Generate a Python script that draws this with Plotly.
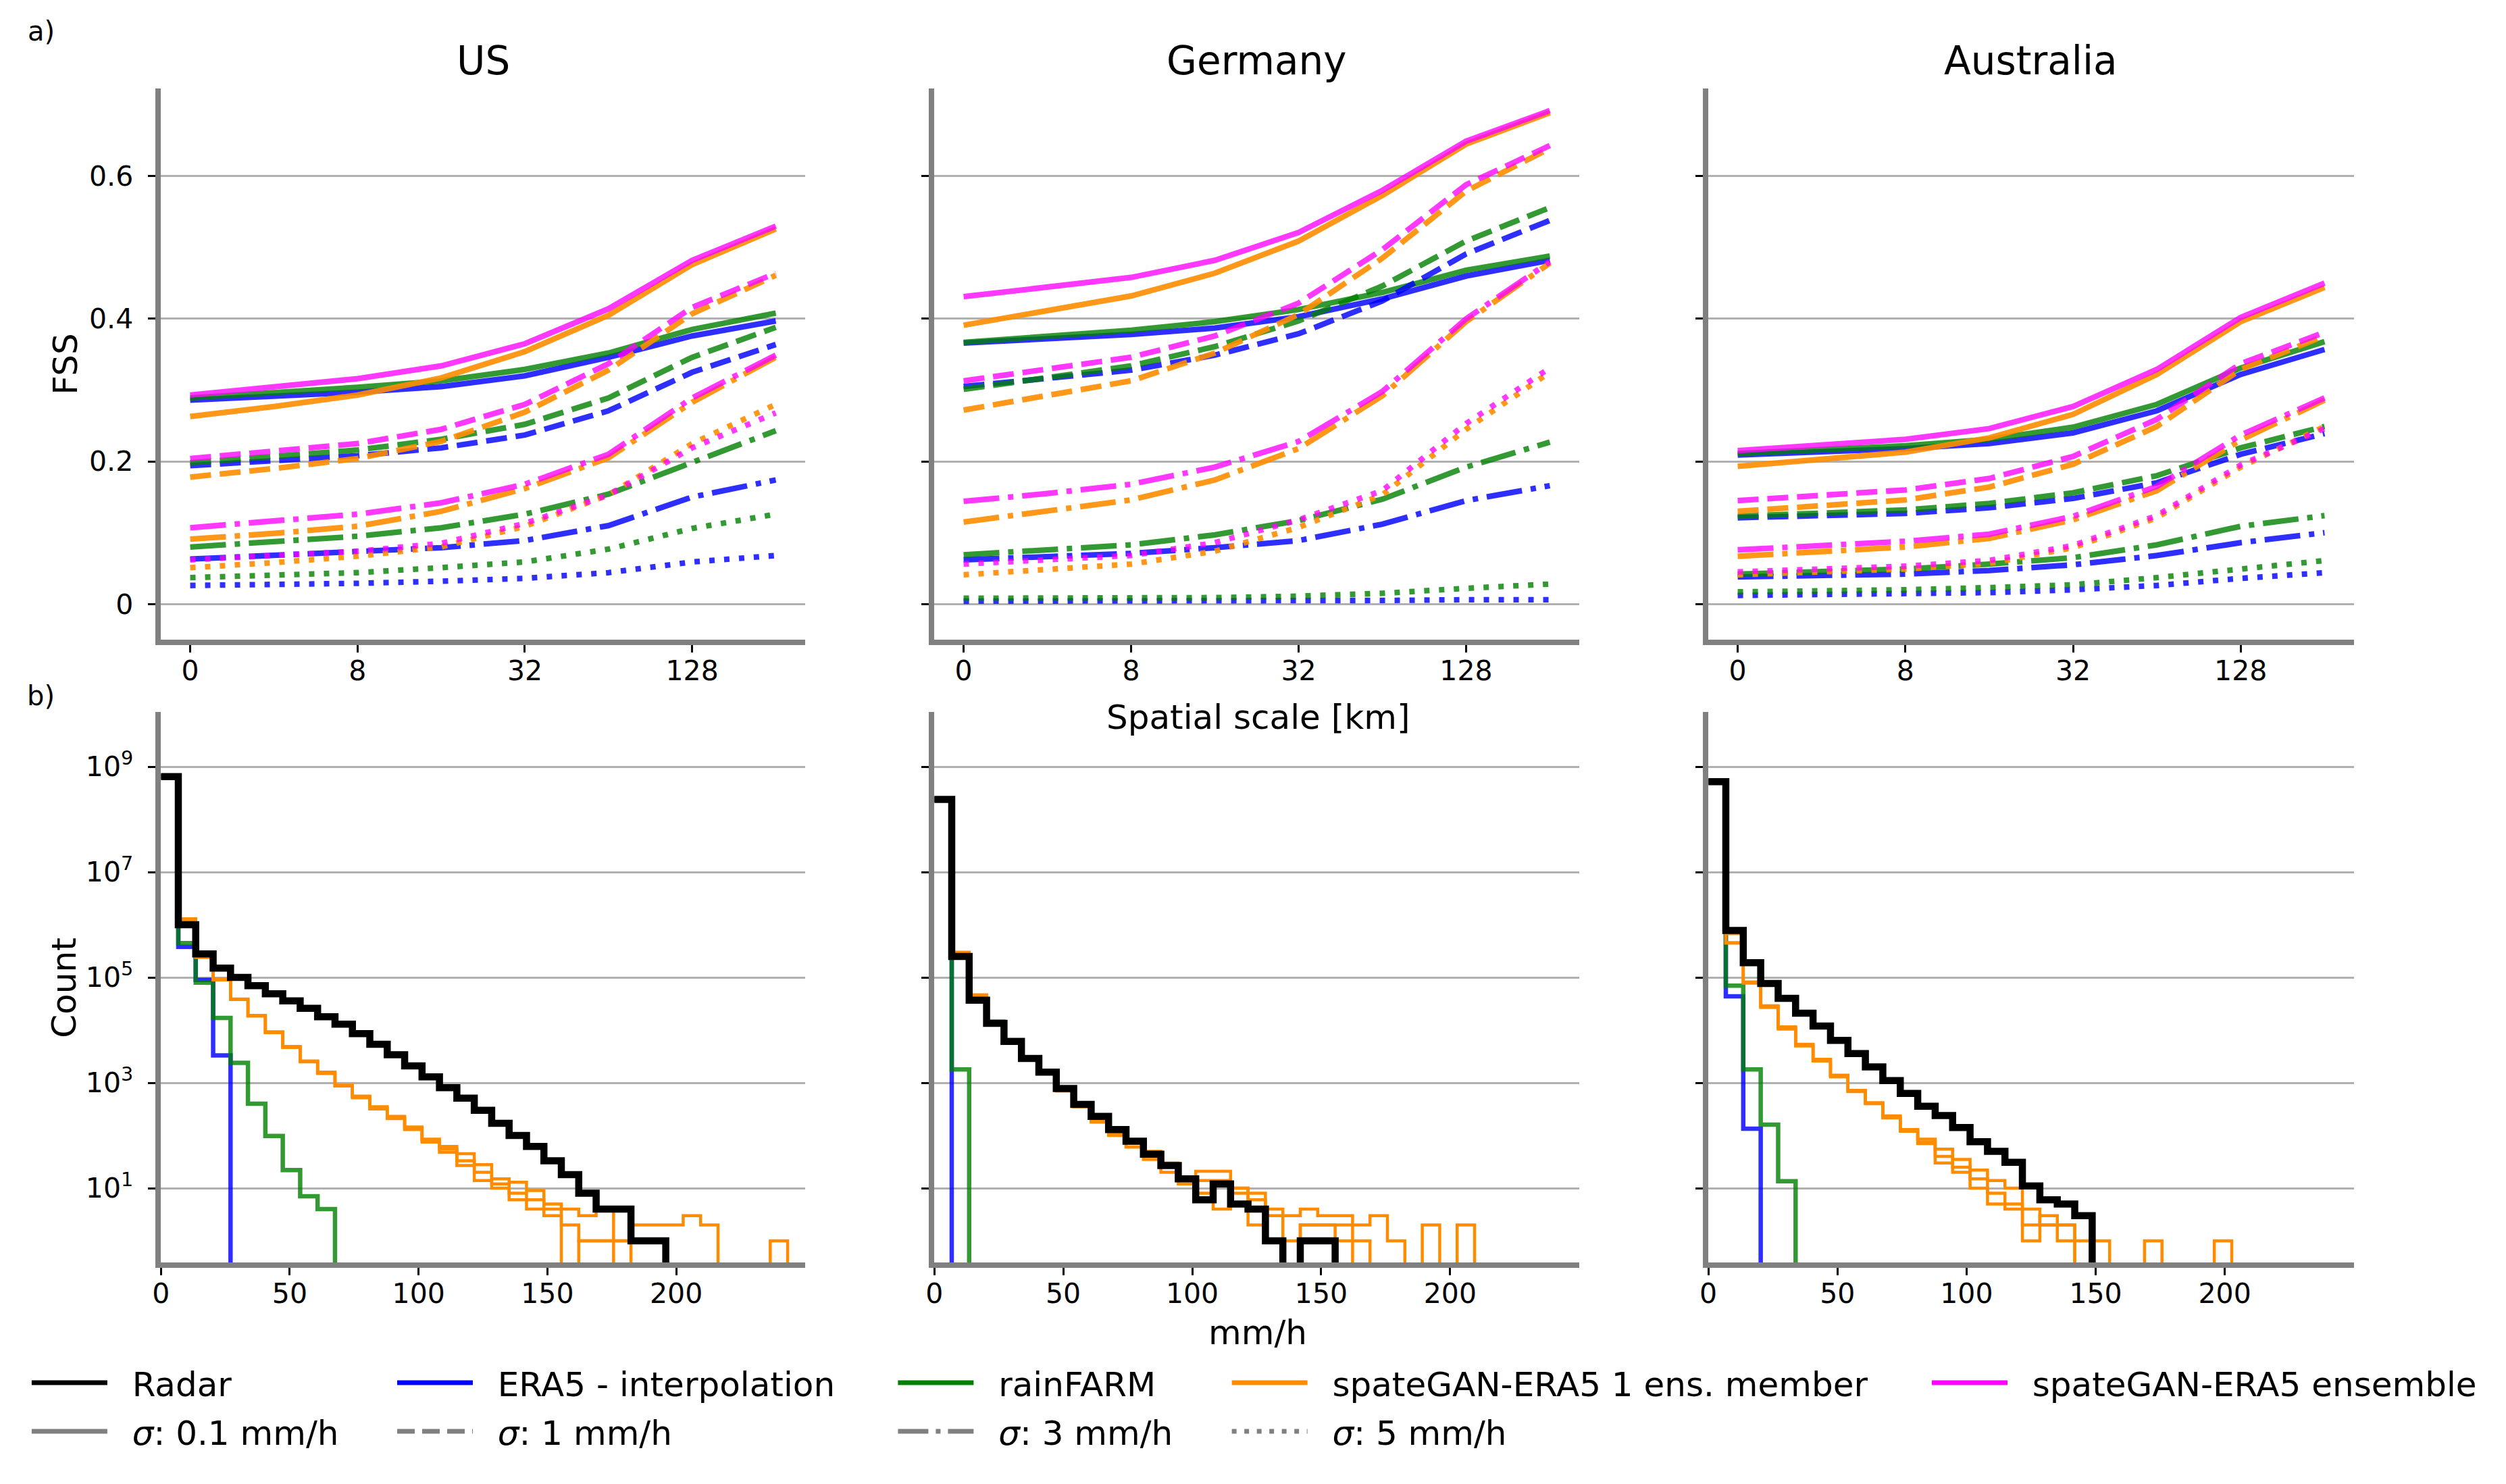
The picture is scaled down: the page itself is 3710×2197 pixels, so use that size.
import numpy as np
import plotly.graph_objects as go

W, H = 3710, 2197

# ---------------- data ----------------
REGIONS = ["US", "Germany", "Australia"]
SCALE_POS = [0, 1, 2, 3, 4, 5, 6, 7]
SCALE_TICK_POS = [0, 2, 4, 6]
SCALE_TICK_TEXT = ["0", "8", "32", "128"]
SIGMA_LABELS = ["0.1", "1", "3", "5"]
MODEL_NAMES = ["ERA5 - interpolation", "rainFARM",
               "spateGAN-ERA5 1 ens. member", "spateGAN-ERA5 ensemble"]

# FSS per region and model; rows = sigma 0.1, 1, 3, 5 mm/h
FSS_US_ERA5 = [[0.286, 0.291, 0.297, 0.305, 0.320, 0.346, 0.376, 0.397],
               [0.194, 0.201, 0.208, 0.219, 0.237, 0.271, 0.325, 0.364],
               [0.063, 0.068, 0.0725, 0.079, 0.089, 0.110, 0.150, 0.174],
               [0.026, 0.027, 0.029, 0.032, 0.036, 0.044, 0.059, 0.068]]
FSS_US_RAINFARM = [[0.289, 0.296, 0.304, 0.313, 0.329, 0.352, 0.385, 0.408],
                   [0.198, 0.207, 0.216, 0.231, 0.252, 0.289, 0.346, 0.388],
                   [0.080, 0.087, 0.095, 0.107, 0.126, 0.154, 0.198, 0.243],
                   [0.037, 0.040, 0.044, 0.051, 0.059, 0.077, 0.106, 0.126]]
FSS_US_MEMBER = [[0.263, 0.277, 0.293, 0.317, 0.354, 0.405, 0.476, 0.526],
                 [0.178, 0.190, 0.204, 0.228, 0.269, 0.328, 0.407, 0.461],
                 [0.091, 0.099, 0.109, 0.130, 0.162, 0.205, 0.283, 0.346],
                 [0.051, 0.058, 0.067, 0.080, 0.109, 0.153, 0.225, 0.280]]
FSS_US_ENSEMBLE = [[0.293, 0.304, 0.316, 0.334, 0.365, 0.414, 0.482, 0.530],
                   [0.204, 0.214, 0.225, 0.245, 0.280, 0.337, 0.416, 0.464],
                   [0.107, 0.116, 0.126, 0.142, 0.168, 0.210, 0.289, 0.349],
                   [0.062, 0.068, 0.074, 0.085, 0.113, 0.153, 0.219, 0.268]]

FSS_DE_ERA5 = [[0.366, 0.372, 0.378, 0.387, 0.403, 0.428, 0.460, 0.482],
               [0.305, 0.316, 0.328, 0.349, 0.379, 0.425, 0.491, 0.538],
               [0.062, 0.066, 0.071, 0.079, 0.089, 0.112, 0.145, 0.166],
               [0.004, 0.004, 0.004, 0.004, 0.005, 0.005, 0.006, 0.006]]
FSS_DE_RAINFARM = [[0.367, 0.375, 0.384, 0.396, 0.413, 0.437, 0.468, 0.488],
                   [0.301, 0.317, 0.334, 0.361, 0.397, 0.446, 0.509, 0.556],
                   [0.069, 0.076, 0.083, 0.097, 0.117, 0.147, 0.192, 0.227],
                   [0.008, 0.008, 0.008, 0.009, 0.011, 0.015, 0.022, 0.028]]
FSS_DE_MEMBER = [[0.391, 0.411, 0.432, 0.464, 0.509, 0.573, 0.645, 0.689],
                 [0.272, 0.292, 0.313, 0.352, 0.406, 0.485, 0.579, 0.639],
                 [0.115, 0.130, 0.146, 0.174, 0.218, 0.292, 0.396, 0.478],
                 [0.041, 0.048, 0.056, 0.074, 0.1075, 0.153, 0.245, 0.325]]
FSS_DE_ENSEMBLE = [[0.431, 0.444, 0.458, 0.482, 0.521, 0.580, 0.649, 0.692],
                   [0.313, 0.329, 0.346, 0.376, 0.422, 0.497, 0.588, 0.643],
                   [0.144, 0.155, 0.168, 0.192, 0.228, 0.298, 0.400, 0.480],
                   [0.056, 0.062, 0.068, 0.086, 0.118, 0.159, 0.253, 0.331]]

FSS_AU_ERA5 = [[0.209, 0.213, 0.218, 0.225, 0.240, 0.271, 0.322, 0.357],
               [0.121, 0.124, 0.127, 0.135, 0.148, 0.170, 0.210, 0.239],
               [0.038, 0.040, 0.042, 0.047, 0.055, 0.068, 0.086, 0.100],
               [0.012, 0.013, 0.014, 0.016, 0.020, 0.026, 0.036, 0.044]]
FSS_AU_RAINFARM = [[0.211, 0.216, 0.222, 0.231, 0.248, 0.280, 0.331, 0.368],
                   [0.123, 0.127, 0.132, 0.141, 0.156, 0.180, 0.219, 0.249],
                   [0.042, 0.045, 0.049, 0.056, 0.065, 0.083, 0.109, 0.124],
                   [0.017, 0.018, 0.020, 0.023, 0.027, 0.037, 0.049, 0.061]]
FSS_AU_MEMBER = [[0.193, 0.203, 0.213, 0.233, 0.266, 0.322, 0.396, 0.444],
                 [0.130, 0.138, 0.146, 0.164, 0.196, 0.249, 0.329, 0.376],
                 [0.067, 0.073, 0.080, 0.092, 0.118, 0.159, 0.230, 0.286],
                 [0.041, 0.045, 0.049, 0.057, 0.079, 0.121, 0.192, 0.249]]
FSS_AU_ENSEMBLE = [[0.215, 0.223, 0.231, 0.246, 0.277, 0.329, 0.402, 0.450],
                   [0.145, 0.152, 0.160, 0.176, 0.207, 0.259, 0.337, 0.381],
                   [0.076, 0.082, 0.088, 0.098, 0.123, 0.165, 0.237, 0.289],
                   [0.045, 0.049, 0.053, 0.061, 0.082, 0.124, 0.195, 0.246]]

# histogram bin edges (mm/h) and counts per bin (trailing bins are empty)
BIN_EDGES = np.linspace(0, 250, 38)
HIST_TICKS = [0, 50, 100, 150, 200]

RADAR_US = [6.5e8, 1.0e6, 2.8e5, 1.5e5, 1.0e5, 7.0e4, 4.9e4, 3.6e4, 2.6e4, 1.8e4,
            1.3e4, 8.6e3, 5.4e3, 3.4e3, 2.1e3, 1.3e3, 810, 510, 300, 170,
            100, 62, 33, 18, 8, 4, 4, 1, 1]
ERA5_US = [6.5e8, 3.8e5, 9.0e4, 3.3e3]
RAINFARM_US = [6.5e8, 4.5e5, 8.0e4, 1.7e4, 2.4e3, 400, 98, 22, 7, 4]
SPATEGAN_US_M1 = [6.4e8, 1.3e6, 2.5e5, 9.3e4, 3.9e4, 1.9e4, 9.3e3, 4.9e3, 2.6e3, 1.6e3,
                  900, 560, 350, 230, 145, 85, 62, 45, 28, 15,
                  13, 9, 5, 2, 1, 1, 1, 2, 2, 2, 3, 2, 0, 0, 0, 1]
SPATEGAN_US_M2 = [6.4e8, 1.25e6, 2.4e5, 9.0e4, 3.8e4, 1.85e4, 9.0e3, 4.7e3, 2.5e3, 1.5e3,
                  880, 520, 320, 210, 130, 80, 55, 33, 20, 12,
                  8, 6, 3, 0, 1, 1]
SPATEGAN_US_M3 = [6.4e8, 1.2e6, 2.45e5, 9.1e4, 3.85e4, 1.9e4, 9.1e3, 4.8e3, 2.55e3, 1.55e3,
                  870, 540, 330, 220, 135, 75, 48, 27, 14, 10,
                  6, 4, 4, 4, 3, 4, 1]

RADAR_DE = [2.4e8, 2.5e5, 3.7e4, 1.35e4, 6.1e3, 2.9e3, 1.6e3, 780, 390, 230,
            130, 78, 44, 27, 15, 6, 12, 5, 4, 1, 0, 1, 1]
ERA5_DE = [2.4e8]
RAINFARM_DE = [2.4e8, 1.8e3]
SPATEGAN_DE_M1 = [2.4e8, 3.0e5, 4.7e4, 1.5e4, 6.5e3, 3.0e3, 1.7e3, 700, 400, 200,
                  120, 80, 50, 28, 15, 21, 21, 10, 8, 4,
                  3, 4, 3, 3, 2, 3, 1, 0, 2, 0, 2]
SPATEGAN_DE_M2 = [2.4e8, 2.8e5, 4.5e4, 1.4e4, 6.0e3, 2.8e3, 1.5e3, 800, 350, 180,
                  100, 70, 40, 30, 14, 14, 14, 10, 6, 3,
                  1, 2, 2, 2, 1]
SPATEGAN_DE_M3 = [2.4e8, 2.9e5, 4.6e4, 1.45e4, 6.3e3, 2.9e3, 1.55e3, 750, 370, 190,
                  110, 60, 35, 20, 12, 8, 4, 8, 2, 1,
                  0, 2, 2, 1]

RADAR_AU = [5.2e8, 7.8e5, 1.9e5, 7.7e4, 4.0e4, 2.1e4, 1.2e4, 6.4e3, 3.6e3, 2.0e3,
            1.1e3, 630, 360, 240, 142, 76, 50, 31, 11, 6, 5, 3]
ERA5_AU = [5.2e8, 4.4e4, 135]
RAINFARM_AU = [5.2e8, 7.0e4, 1.8e3, 160, 13.5]
SPATEGAN_AU_M1 = [5.2e8, 6.8e5, 8.0e4, 2.8e4, 1.1e4, 5.2e3, 2.7e3, 1.35e3, 700, 410,
                  225, 130, 85, 55, 35, 22, 14, 10, 4, 2,
                  1, 1, 1, 0, 0, 1, 0, 0, 0, 1]
SPATEGAN_AU_M2 = [5.2e8, 4.5e5, 7.8e4, 2.7e4, 1.05e4, 5.0e3, 2.6e3, 1.3e3, 680, 400,
                  215, 120, 75, 40, 25, 15, 8, 5, 2, 3, 2]
SPATEGAN_AU_M3 = [5.2e8, 4.6e5, 8.2e4, 2.9e4, 1.15e4, 5.4e3, 2.8e3, 1.4e3, 720, 420,
                  235, 125, 70, 30, 20, 10, 5, 4, 1, 2, 2]

# ---------------- styling ----------------
FONT = "DejaVu Sans"
C_BLUE = "rgba(0,0,255,0.82)"
C_GREEN = "rgba(0,128,0,0.8)"
C_ORANGE = "rgba(255,140,0,0.9)"
C_MAGENTA = "rgba(255,0,255,0.78)"
MODEL_COLORS = [C_BLUE, C_GREEN, C_ORANGE, C_MAGENTA]
LEGEND_COLORS = ["blue", "green", "darkorange", "magenta"]
DASHES = ["solid", "31px,13px", "53px,13px,8px,13px", "8px,14px"]
LEG_DASHES = ["solid", "26px,11px", "45px,11px,7px,11px", "7px,11.5px"]
FSS_LW = 8.3
FLOOR = 1e-2  # display value for empty bins on log axis (below visible range)

FSS_DATA = [
    [FSS_US_ERA5, FSS_US_RAINFARM, FSS_US_MEMBER, FSS_US_ENSEMBLE],
    [FSS_DE_ERA5, FSS_DE_RAINFARM, FSS_DE_MEMBER, FSS_DE_ENSEMBLE],
    [FSS_AU_ERA5, FSS_AU_RAINFARM, FSS_AU_MEMBER, FSS_AU_ENSEMBLE],
]
HIST_DATA = [
    (RADAR_US, ERA5_US, RAINFARM_US, [SPATEGAN_US_M1, SPATEGAN_US_M2, SPATEGAN_US_M3]),
    (RADAR_DE, ERA5_DE, RAINFARM_DE, [SPATEGAN_DE_M1, SPATEGAN_DE_M2, SPATEGAN_DE_M3]),
    (RADAR_AU, ERA5_AU, RAINFARM_AU, [SPATEGAN_AU_M1, SPATEGAN_AU_M2, SPATEGAN_AU_M3]),
]

# axes geometry (pixels)
COL_X = [(226.0, 1183.0), (1375.0, 2333.0), (2525.0, 3484.0)]
TOP_Y = (131.0, 947.0)
BOT_Y = (1054.0, 1869.0)


def px_x(v):
    return v / W


def px_y(v):
    return 1 - v / H


def step_xy(counts):
    n = len(counts)
    x = list(BIN_EDGES[:n]) + [BIN_EDGES[n]]
    y = [c if c > 0 else FLOOR for c in counts] + [FLOOR]
    return x, y


fig = go.Figure()

# ---- FSS panels ----
for r in range(3):
    xa, ya = f"x{r + 1}", f"y{r + 1}"
    for s in range(4):
        for m in range(4):
            fig.add_trace(go.Scatter(
                x=SCALE_POS, y=FSS_DATA[r][m][s], mode="lines",
                line=dict(color=MODEL_COLORS[m], width=FSS_LW, dash=DASHES[s]),
                xaxis=xa, yaxis=ya, showlegend=False, hoverinfo="skip"))

# ---- histogram panels ----
for r in range(3):
    xa, ya = f"x{r + 4}", f"y{r + 4}"
    radar, era5, rainfarm, members = HIST_DATA[r]
    for counts, col, lw in [(era5, C_BLUE, 6.5), (rainfarm, C_GREEN, 6.5)]:
        x, y = step_xy(counts)
        fig.add_trace(go.Scatter(x=x, y=y, mode="lines", line=dict(color=col, width=lw, shape="hv"),
                                 xaxis=xa, yaxis=ya, showlegend=False, hoverinfo="skip"))
    for mem in members:
        x, y = step_xy(mem)
        fig.add_trace(go.Scatter(x=x, y=y, mode="lines", line=dict(color="rgb(255,140,0)", width=4.5, shape="hv"),
                                 xaxis=xa, yaxis=ya, showlegend=False, hoverinfo="skip"))
    x, y = step_xy(radar)
    fig.add_trace(go.Scatter(x=x, y=y, mode="lines", line=dict(color="black", width=10.5, shape="hv"),
                             xaxis=xa, yaxis=ya, showlegend=False, hoverinfo="skip"))

# ---- legend entries (5 column legends) ----
SP = "\u00a0\u00a0"
legend_cols = [
    [("Radar", "black", "solid"), ("<i>σ</i>: 0.1 mm/h", "gray", LEG_DASHES[0])],
    [(MODEL_NAMES[0], LEGEND_COLORS[0], "solid"), ("<i>σ</i>: 1 mm/h", "gray", LEG_DASHES[1])],
    [(MODEL_NAMES[1], LEGEND_COLORS[1], "solid"), ("<i>σ</i>: 3 mm/h", "gray", LEG_DASHES[2])],
    [(MODEL_NAMES[2], LEGEND_COLORS[2], "solid"), ("<i>σ</i>: 5 mm/h", "gray", LEG_DASHES[3])],
    [(MODEL_NAMES[3], LEGEND_COLORS[3], "solid")],
]
LEGEND_X = [47, 590, 1334, 1830, 2870]
for i, col in enumerate(legend_cols):
    lname = "legend" if i == 0 else f"legend{i + 1}"
    for k, (name, color, dash) in enumerate(col):
        fig.add_trace(go.Scatter(x=[None], y=[None], mode="lines", name=SP + name,
                                 line=dict(color=color, width=7, dash=dash),
                                 legend=lname, legendgroup=f"{lname}_{k}",
                                 showlegend=True, xaxis="x1", yaxis="y1"))

layout = dict(
    width=W, height=H, autosize=False,
    margin=dict(l=0, r=0, t=0, b=0),
    paper_bgcolor="white", plot_bgcolor="white",
    font=dict(family=FONT, color="black", size=41),
)

axis_common = dict(showline=True, linecolor="#808080", linewidth=7.5, mirror=False,
                   ticks="outside", tickcolor="black", ticklen=11, tickwidth=3,
                   zeroline=False, tickfont=dict(family=FONT, size=41, color="black"))

for r in range(3):
    i = r + 1
    j = r + 4
    x0, x1 = COL_X[r]
    layout[f"xaxis{i}"] = dict(axis_common, domain=[px_x(x0), px_x(x1)], anchor=f"y{i}",
                               range=[-0.35, 7.35], tickvals=SCALE_TICK_POS, ticktext=SCALE_TICK_TEXT,
                               showgrid=False, ticklabelstandoff=-8)
    layout[f"yaxis{i}"] = dict(axis_common, domain=[px_y(TOP_Y[1]), px_y(TOP_Y[0])], anchor=f"x{i}",
                               range=[-0.05, 0.723], tickvals=[0, 0.2, 0.4, 0.6],
                               ticktext=["0", "0.2", "0.4", "0.6"], showticklabels=(r == 0),
                               showgrid=True, gridcolor="#b0b0b0", gridwidth=3, ticklabelstandoff=14)
    layout[f"xaxis{j}"] = dict(axis_common, domain=[px_x(x0), px_x(x1)], anchor=f"y{j}",
                               range=[0, 250], tickvals=HIST_TICKS,
                               ticktext=[str(t) for t in HIST_TICKS], showgrid=False,
                               ticklabelstandoff=-8)
    layout[f"yaxis{j}"] = dict(axis_common, domain=[px_y(BOT_Y[1]), px_y(BOT_Y[0])], anchor=f"x{j}",
                               type="log", range=[-0.41, 10.04],
                               tickvals=[1e1, 1e3, 1e5, 1e7, 1e9],
                               ticktext=["10<sup>1</sup>", "10<sup>3</sup>", "10<sup>5</sup>",
                                         "10<sup>7</sup>", "10<sup>9</sup>"],
                               showticklabels=(r == 0), ticklabelstandoff=14,
                               showgrid=True, gridcolor="#b0b0b0", gridwidth=3)

for i, xpx in enumerate(LEGEND_X):
    lname = "legend" if i == 0 else f"legend{i + 1}"
    layout[lname] = dict(x=px_x(xpx - 18), y=px_y(2008), xanchor="left", yanchor="top",
                         orientation="v", font=dict(family=FONT, size=50, color="black"),
                         bgcolor="rgba(0,0,0,0)", borderwidth=0, itemwidth=112,
                         tracegroupgap=4, traceorder="grouped", itemclick=False)

annotations = []
for r, name in enumerate(REGIONS):
    x0, x1 = COL_X[r]
    annotations.append(dict(text=name, x=px_x((x0 + x1) / 2), y=px_y(90), xref="paper", yref="paper",
                            xanchor="center", yanchor="middle", showarrow=False,
                            font=dict(family=FONT, size=58, color="black")))
annotations += [
    dict(text="a)", x=px_x(48), y=px_y(46), font=dict(size=40)),
    dict(text="b)", x=px_x(48), y=px_y(1030), font=dict(size=40)),
    dict(text="FSS", x=px_x(84), y=px_y(539), textangle=-90, font=dict(size=50)),
    dict(text="Count", x=px_x(82), y=px_y(1462), textangle=-90, font=dict(size=50)),
    dict(text="Spatial scale [km]", x=px_x(1856), y=px_y(1062), font=dict(size=50)),
    dict(text="mm/h", x=px_x(1856), y=px_y(1973), font=dict(size=50)),
]
for a in annotations[3:]:
    a.setdefault("xref", "paper")
    a.setdefault("yref", "paper")
    a.setdefault("showarrow", False)
    a.setdefault("xanchor", "center")
    a.setdefault("yanchor", "middle")
    a["font"] = dict(family=FONT, color="black", size=a["font"]["size"])
layout["annotations"] = annotations

fig.update_layout(**layout)
fig.write_html("out.html", config={"displayModeBar": False},
               post_script="document.body.style.margin='0';document.body.style.overflow='hidden';")
